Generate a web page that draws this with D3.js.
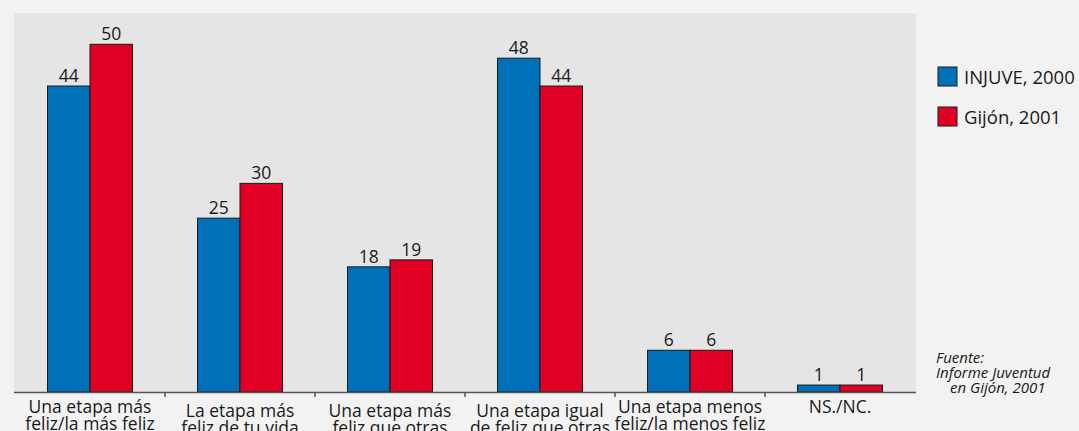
<!DOCTYPE html>
<html>
<head>
<meta charset="utf-8">
<script src="https://cdn.jsdelivr.net/npm/d3@7"></script>
<style>
  html, body { margin: 0; padding: 0; background: #f2f2f2; }
  svg { display: block; }
  text { font-family: "Open Sans", "Liberation Sans", sans-serif; fill: #1a1a1a; }
</style>
</head>
<body>
<svg id="chart" width="1079" height="431"></svg>
<script>
// ---- data ----
const categories = [
  ["Una etapa más", "feliz/la más feliz"],
  ["La etapa más", "feliz de tu vida"],
  ["Una etapa más", "feliz que otras"],
  ["Una etapa igual", "de feliz que otras"],
  ["Una etapa menos", "feliz/la menos feliz"],
  ["NS./NC."]
];
const seriesNames = ["INJUVE, 2000", "Gijón, 2001"];
const injuve2000 = [44, 25, 18, 48, 6, 1];
const gijon2001 = [50, 30, 19, 44, 6, 1];
const sourceLines = ["Fuente:", "Informe Juventud", "en Gijón, 2001"];

// ---- styling ----
const colors = ["#0070b8", "#e00024"];
const labelNudge = [0, 4, 4, 4, 0, 0];

const svg = d3.select("#chart");
const plot = { left: 14, right: 916, top: 13, bottom: 392 };

svg.append("rect")
  .attr("x", plot.left).attr("y", plot.top)
  .attr("width", plot.right - plot.left).attr("height", plot.bottom - plot.top)
  .attr("fill", "#e5e5e5");

const catIdx = categories.map((d, i) => i);
const x0 = d3.scaleBand().domain(catIdx).range([15, 915]).padding(0);
const x1 = d3.scaleBand().domain([0, 1]).range([0, x0.bandwidth()])
  .paddingInner(0).paddingOuter(0.765);
const y = d3.scaleLinear().domain([0, 54.5]).range([plot.bottom, plot.top]);

const rows = catIdx.map(i => ({ i, vals: [injuve2000[i], gijon2001[i]] }));

const g = svg.append("g");
const groups = g.selectAll("g.grp").data(rows).join("g")
  .attr("class", "grp")
  .attr("transform", d => `translate(${x0(d.i)},0)`);

groups.selectAll("rect").data(d => d.vals.map((v, s) => ({ v, s }))).join("rect")
  .attr("x", d => x1(d.s))
  .attr("y", d => y(d.v))
  .attr("width", x1.bandwidth())
  .attr("height", d => y(0) - y(d.v))
  .attr("fill", d => colors[d.s])
  .attr("stroke", "#1a1a1a")
  .attr("stroke-width", 1);

groups.selectAll("text.val").data(d => d.vals.map((v, s) => ({ v, s }))).join("text")
  .attr("class", "val")
  .attr("x", d => x1(d.s) + x1.bandwidth() / 2)
  .attr("y", d => y(d.v) - 4)
  .attr("text-anchor", "middle")
  .attr("font-size", 17.5)
  .text(d => d.v);

// axis baseline and ticks
svg.append("line")
  .attr("x1", plot.left).attr("x2", plot.right)
  .attr("y1", plot.bottom + 0.5).attr("y2", plot.bottom + 0.5)
  .attr("stroke", "#555").attr("stroke-width", 1.5);
svg.append("g").selectAll("line").data(catIdx.slice(1)).join("line")
  .attr("x1", d => x0(d)).attr("x2", d => x0(d))
  .attr("y1", plot.bottom).attr("y2", plot.bottom + 5)
  .attr("stroke", "#555").attr("stroke-width", 1.5);

// category labels (one text per line)
const labG = svg.append("g");
rows.forEach(d => {
  const cx = x0(d.i) + x0.bandwidth() / 2;
  categories[d.i].forEach((t, k) => {
    labG.append("text")
      .attr("x", cx)
      .attr("y", 413 + labelNudge[d.i] + k * 17)
      .attr("text-anchor", "middle")
      .attr("font-size", 17.5)
      .text(t);
  });
});

// legend
const leg = svg.append("g").attr("transform", "translate(938,67)");
seriesNames.forEach((name, s) => {
  leg.append("rect").attr("x", 0).attr("y", s * 40)
    .attr("width", 19).attr("height", 19)
    .attr("fill", colors[s]).attr("stroke", "#1a1a1a").attr("stroke-width", 1);
  leg.append("text").attr("x", 26).attr("y", s * 40 + 17)
    .attr("font-size", 18.5).text(name);
});

// source
const srcX = [936, 936, 950];
sourceLines.forEach((t, k) => {
  svg.append("text")
    .attr("font-size", 15).attr("font-style", "italic")
    .attr("x", srcX[k]).attr("y", 363 + k * 15).text(t);
});
</script>
</body>
</html>
